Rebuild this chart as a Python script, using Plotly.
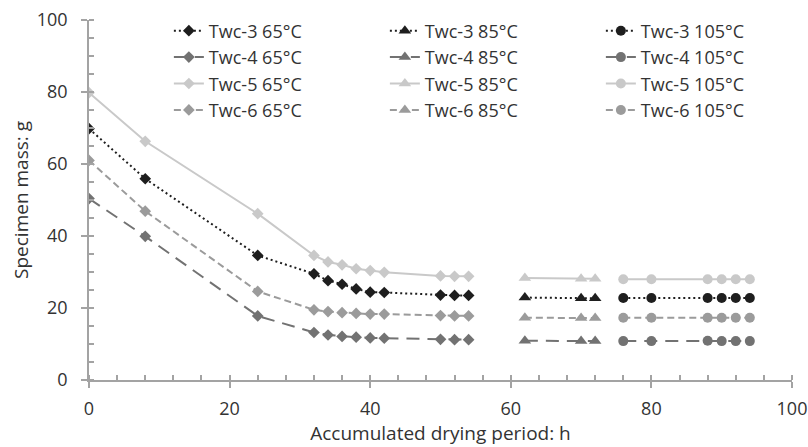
import plotly.graph_objects as go

# ---- data ----
x65 = [0, 8, 24, 32, 34, 36, 38, 40, 42, 50, 52, 54]
x85 = [62, 70, 72]
x105 = [76, 80, 88, 90, 92, 94]

twc3_65 = [69.8, 55.9, 34.6, 29.5, 27.6, 26.6, 25.3, 24.4, 24.3, 23.6, 23.5, 23.5]
twc4_65 = [50.4, 39.9, 17.8, 13.2, 12.5, 12.1, 11.9, 11.7, 11.6, 11.3, 11.2, 11.2]
twc5_65 = [79.8, 66.3, 46.2, 34.6, 32.8, 32.0, 30.9, 30.4, 29.9, 28.9, 28.8, 28.8]
twc6_65 = [61.0, 46.9, 24.6, 19.5, 19.0, 18.7, 18.5, 18.3, 18.3, 17.9, 17.8, 17.8]

twc3_85 = [22.9, 22.7, 22.7]
twc4_85 = [10.9, 10.8, 10.8]
twc5_85 = [28.3, 28.1, 28.1]
twc6_85 = [17.3, 17.2, 17.2]

twc3_105 = [22.8, 22.8, 22.8, 22.8, 22.8, 22.8]
twc4_105 = [10.8, 10.8, 10.9, 10.8, 10.8, 10.8]
twc5_105 = [28.0, 28.0, 28.0, 28.0, 28.0, 28.0]
twc6_105 = [17.3, 17.3, 17.3, 17.3, 17.3, 17.3]

specimens = ["Twc-3", "Twc-4", "Twc-5", "Twc-6"]
temps = ["65°C", "85°C", "105°C"]

series = {
    ("Twc-3", "65°C"): (x65, twc3_65), ("Twc-3", "85°C"): (x85, twc3_85), ("Twc-3", "105°C"): (x105, twc3_105),
    ("Twc-4", "65°C"): (x65, twc4_65), ("Twc-4", "85°C"): (x85, twc4_85), ("Twc-4", "105°C"): (x105, twc4_105),
    ("Twc-5", "65°C"): (x65, twc5_65), ("Twc-5", "85°C"): (x85, twc5_85), ("Twc-5", "105°C"): (x105, twc5_105),
    ("Twc-6", "65°C"): (x65, twc6_65), ("Twc-6", "85°C"): (x85, twc6_85), ("Twc-6", "105°C"): (x105, twc6_105),
}

# ---- styles ----
colors = {"Twc-3": "#1e1e1e", "Twc-4": "#727272", "Twc-5": "#c9c9c9", "Twc-6": "#9b9b9b"}
dashes = {"Twc-3": "2px,3px", "Twc-4": "13px,8px", "Twc-5": "solid", "Twc-6": "7px,4px"}
symbols = {"65°C": "diamond", "85°C": "triangle-up", "105°C": "circle"}
msize = {"65°C": 9, "85°C": 11, "105°C": 10}

FONT = "Open Sans"
AX = "#a3a3a3"
TXT = "#333333"

fig = go.Figure()
for s in specimens:
    for t in temps:
        xs, ys = series[(s, t)]
        fig.add_trace(go.Scatter(
            x=xs, y=ys, mode="lines+markers", name=f"{s} {t}",
            line=dict(color=colors[s], width=2, dash=dashes[s]),
            marker=dict(symbol=symbols[t], size=msize[t], color=colors[s]),
        ))

fig.update_layout(
    width=808, height=447,
    margin=dict(l=89, r=16, t=20, b=67, autoexpand=False),
    paper_bgcolor="white", plot_bgcolor="white",
    font=dict(family=FONT, size=18, color=TXT),
    showlegend=True,
    legend=dict(
        orientation="h", xref="container", yref="container",
        x=0.209, y=0.972, xanchor="left", yanchor="top",
        entrywidth=171, entrywidthmode="pixels",
        font=dict(family=FONT, size=18, color=TXT),
        bgcolor="rgba(0,0,0,0)", traceorder="normal",
        tracegroupgap=0,
    ),
    xaxis=dict(
        range=[0, 100], dtick=20, tick0=0, showgrid=False, zeroline=False,
        showline=True, linecolor=AX, linewidth=1.5, automargin=False,
        ticks="outside", ticklen=6, tickcolor=AX, tickwidth=1.5,
        minor=dict(dtick=4, ticks="inside", ticklen=5, tickcolor=AX, tickwidth=1.5, showgrid=False),
        title=dict(text="Accumulated drying period: h", standoff=5, font=dict(size=19)),
        ticklabelstandoff=6, ticklabeloverflow="allow",
    ),
    yaxis=dict(
        range=[0, 100], dtick=20, tick0=0, showgrid=False, zeroline=False,
        showline=True, linecolor=AX, linewidth=1.5, automargin=False,
        ticks="outside", ticklen=6, tickcolor=AX, tickwidth=1.5,
        minor=dict(dtick=5, ticks="inside", ticklen=5, tickcolor=AX, tickwidth=1.5, showgrid=False),
        title=dict(text="Specimen mass: g", standoff=3, font=dict(size=19)),
        ticklabelstandoff=10, ticklabeloverflow="allow",
    ),
    xaxis2=dict(
        range=[0, 100], dtick=20, tick0=0, overlaying="x", anchor="y", side="bottom",
        showgrid=False, zeroline=False, showline=False, showticklabels=False,
        ticks="inside", ticklen=6, tickcolor=AX, tickwidth=1.5, automargin=False,
    ),
    yaxis2=dict(
        range=[0, 100], dtick=20, tick0=0, overlaying="y", anchor="x", side="left",
        showgrid=False, zeroline=False, showline=False, showticklabels=False,
        ticks="inside", ticklen=6, tickcolor=AX, tickwidth=1.5, automargin=False,
    ),
)

fig.write_html("out.html", config={"displayModeBar": False},
               post_script="document.body.style.margin='0';")
